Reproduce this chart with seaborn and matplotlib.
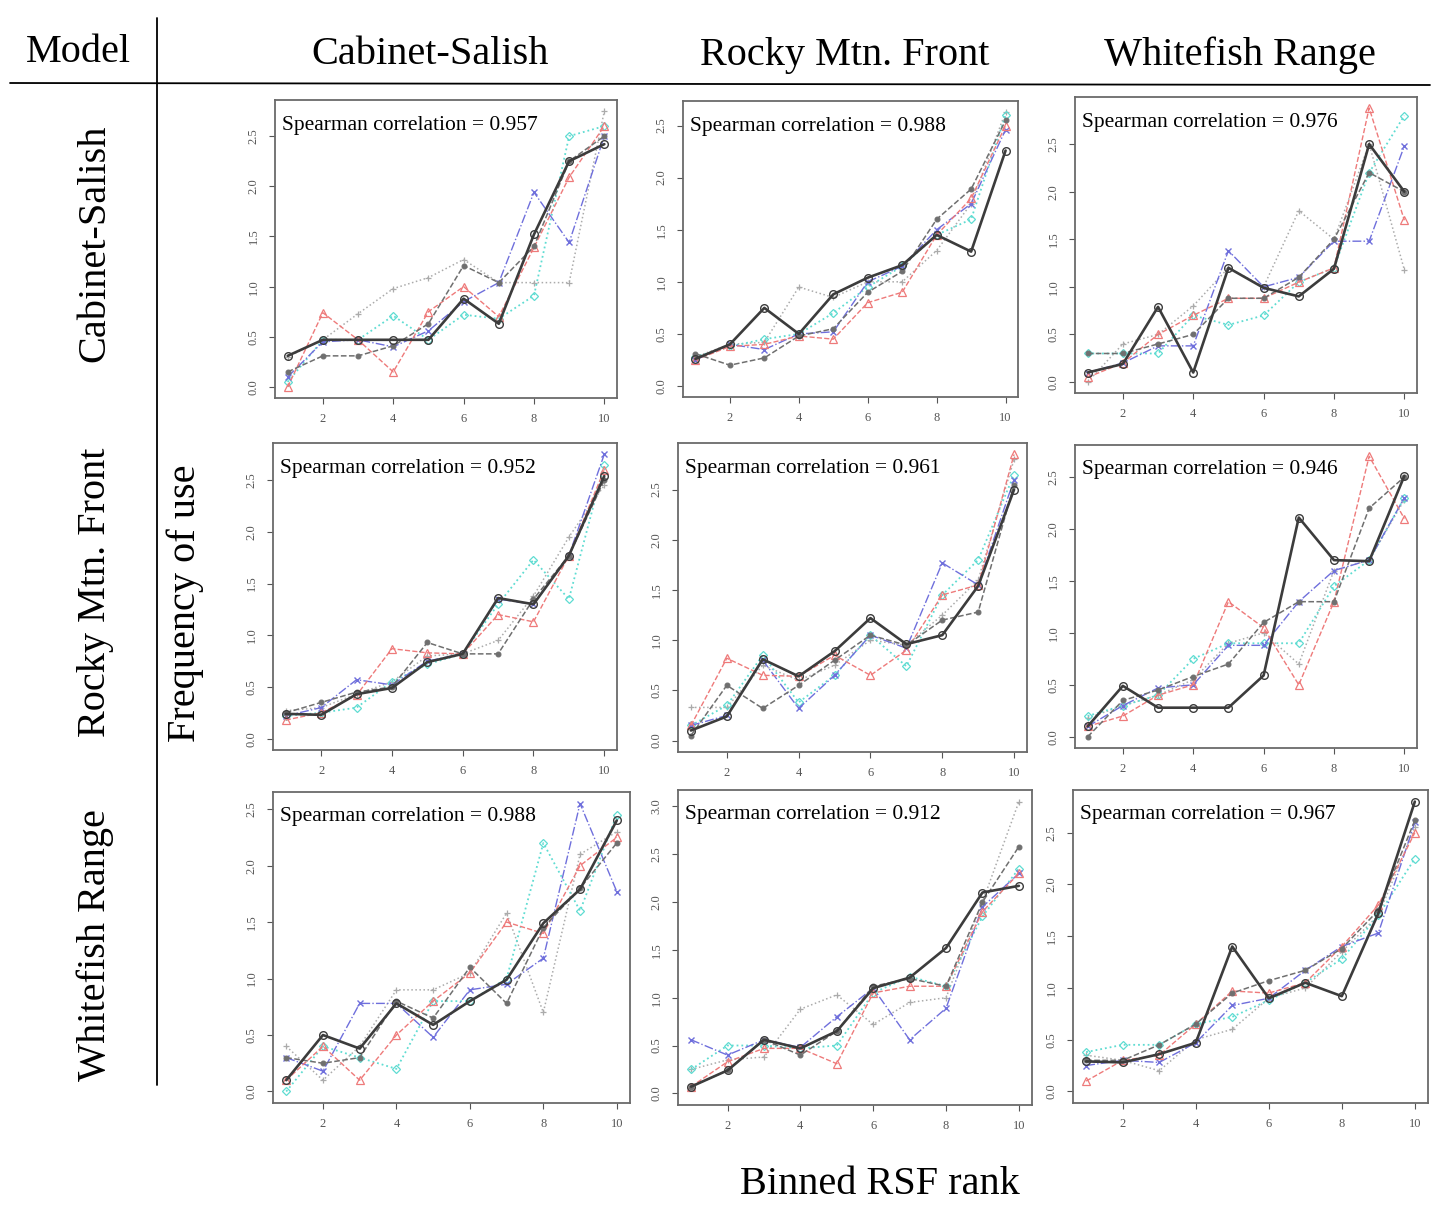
import numpy as np
import pandas as pd
import matplotlib
matplotlib.use("Agg")
import matplotlib.pyplot as plt
from matplotlib.lines import Line2D
from matplotlib.ticker import MultipleLocator, FormatStrFormatter
import matplotlib.transforms as mtransforms
import seaborn as sns

# ---------------- data ----------------
ranks = [1, 2, 3, 4, 5, 6, 7, 8, 9, 10]
areas = ["Cabinet-Salish", "Rocky Mtn. Front", "Whitefish Range"]
models = ["Cabinet-Salish", "Rocky Mtn. Front", "Whitefish Range"]
series_names = ["s1", "s2", "s3", "s4", "s5", "s6"]
correlations = ["0.957", "0.988", "0.976",
                "0.952", "0.961", "0.946",
                "0.988", "0.912", "0.967"]

# each panel: [s1 (black solid), s2 (gray dashed), s3 (red), s4 (blue), s5 (cyan), s6 (light gray)]
p11 = [[0.31, 0.47, 0.47, 0.47, 0.47, 0.88, 0.63, 1.52, 2.25, 2.42],
       [0.15, 0.31, 0.31, 0.41, 0.63, 1.21, 1.04, 1.40, 2.25, 2.50],
       [0.00, 0.74, 0.47, 0.15, 0.75, 1.00, 0.70, 1.39, 2.09, 2.60],
       [0.10, 0.45, 0.47, 0.40, 0.56, 0.85, 1.04, 1.94, 1.44, 2.50],
       [0.05, 0.47, 0.47, 0.71, 0.47, 0.72, 0.68, 0.91, 2.50, 2.60],
       [0.30, 0.47, 0.73, 0.98, 1.09, 1.27, 1.04, 1.04, 1.04, 2.75]]
p12 = [[0.26, 0.40, 0.75, 0.50, 0.88, 1.04, 1.16, 1.45, 1.29, 2.26],
       [0.31, 0.20, 0.27, 0.48, 0.55, 0.90, 1.10, 1.60, 1.89, 2.55],
       [0.25, 0.38, 0.40, 0.48, 0.45, 0.80, 0.90, 1.45, 1.80, 2.50],
       [0.25, 0.40, 0.35, 0.50, 0.52, 1.00, 1.15, 1.50, 1.75, 2.46],
       [0.28, 0.38, 0.45, 0.50, 0.70, 0.95, 1.15, 1.45, 1.60, 2.60],
       [0.28, 0.40, 0.42, 0.95, 0.85, 1.00, 1.00, 1.30, 1.75, 2.63]]
p13 = [[0.10, 0.19, 0.79, 0.10, 1.20, 0.99, 0.90, 1.19, 2.50, 2.00],
       [0.30, 0.30, 0.40, 0.50, 0.88, 0.88, 1.10, 1.50, 2.20, 2.00],
       [0.05, 0.20, 0.50, 0.70, 0.88, 0.88, 1.05, 1.20, 2.88, 1.70],
       [0.10, 0.20, 0.38, 0.38, 1.38, 1.00, 1.10, 1.48, 1.48, 2.48],
       [0.30, 0.30, 0.30, 0.70, 0.60, 0.70, 1.05, 1.20, 2.20, 2.80],
       [0.00, 0.40, 0.50, 0.80, 1.20, 1.00, 1.80, 1.50, 2.50, 1.18]]
p21 = [[0.24, 0.23, 0.43, 0.49, 0.74, 0.82, 1.36, 1.30, 1.77, 2.54],
       [0.25, 0.35, 0.45, 0.50, 0.93, 0.82, 0.82, 1.35, 1.77, 2.50],
       [0.18, 0.25, 0.42, 0.87, 0.83, 0.82, 1.20, 1.13, 1.77, 2.60],
       [0.22, 0.30, 0.57, 0.52, 0.75, 0.82, 1.35, 1.30, 1.77, 2.75],
       [0.22, 0.25, 0.30, 0.55, 0.72, 0.82, 1.30, 1.73, 1.35, 2.65],
       [0.27, 0.30, 0.43, 0.55, 0.80, 0.82, 0.95, 1.38, 1.95, 2.45]]
p22 = [[0.10, 0.24, 0.81, 0.64, 0.89, 1.22, 0.96, 1.05, 1.54, 2.50],
       [0.05, 0.55, 0.32, 0.55, 0.80, 1.05, 0.95, 1.20, 1.28, 2.55],
       [0.15, 0.82, 0.65, 0.64, 0.85, 0.65, 0.90, 1.45, 1.55, 2.85],
       [0.15, 0.25, 0.80, 0.32, 0.65, 1.05, 0.92, 1.77, 1.55, 2.60],
       [0.15, 0.35, 0.85, 0.38, 0.65, 1.05, 0.74, 1.45, 1.80, 2.65],
       [0.33, 0.33, 0.75, 0.60, 0.75, 1.00, 0.95, 1.25, 1.60, 2.80]]
p23 = [[0.10, 0.49, 0.28, 0.28, 0.28, 0.59, 2.11, 1.70, 1.69, 2.51],
       [0.00, 0.35, 0.45, 0.58, 0.70, 1.10, 1.30, 1.30, 2.20, 2.50],
       [0.10, 0.20, 0.40, 0.50, 1.30, 1.05, 0.50, 1.30, 2.70, 2.10],
       [0.10, 0.30, 0.47, 0.50, 0.88, 0.88, 1.30, 1.60, 1.70, 2.30],
       [0.20, 0.30, 0.40, 0.75, 0.90, 0.90, 0.90, 1.45, 1.70, 2.30],
       [0.18, 0.30, 0.40, 0.55, 0.90, 1.00, 0.70, 1.60, 1.70, 2.28]]
p31 = [[0.10, 0.50, 0.38, 0.78, 0.59, 0.80, 0.99, 1.49, 1.79, 2.40],
       [0.30, 0.25, 0.30, 0.80, 0.65, 1.10, 0.78, 1.45, 1.80, 2.20],
       [0.10, 0.40, 0.10, 0.50, 0.80, 1.05, 1.50, 1.40, 2.00, 2.25],
       [0.30, 0.18, 0.78, 0.78, 0.48, 0.90, 0.95, 1.18, 2.55, 1.77],
       [0.00, 0.40, 0.30, 0.20, 0.80, 0.80, 1.00, 2.20, 1.60, 2.45],
       [0.40, 0.10, 0.40, 0.90, 0.90, 1.05, 1.58, 0.70, 2.10, 2.30]]
p32 = [[0.07, 0.24, 0.56, 0.47, 0.65, 1.10, 1.21, 1.52, 2.10, 2.17],
       [0.07, 0.24, 0.56, 0.40, 0.65, 1.12, 1.20, 1.12, 2.00, 2.58],
       [0.07, 0.33, 0.47, 0.47, 0.31, 1.05, 1.12, 1.12, 1.90, 2.30],
       [0.56, 0.40, 0.56, 0.48, 0.80, 1.10, 0.56, 0.89, 1.95, 2.30],
       [0.25, 0.50, 0.50, 0.47, 0.50, 1.05, 1.22, 1.12, 1.85, 2.35],
       [0.25, 0.35, 0.38, 0.88, 1.03, 0.72, 0.95, 1.00, 2.00, 3.05]]
p33 = [[0.29, 0.28, 0.36, 0.47, 1.40, 0.90, 1.05, 0.92, 1.72, 2.80],
       [0.30, 0.30, 0.45, 0.65, 0.95, 1.07, 1.17, 1.38, 1.75, 2.62],
       [0.10, 0.30, 0.35, 0.65, 0.97, 0.95, 1.05, 1.40, 1.80, 2.50],
       [0.25, 0.30, 0.28, 0.47, 0.83, 0.90, 1.17, 1.40, 1.53, 2.60],
       [0.38, 0.45, 0.45, 0.65, 0.72, 0.88, 1.05, 1.28, 1.70, 2.25],
       [0.35, 0.30, 0.20, 0.50, 0.60, 0.90, 1.00, 1.35, 1.70, 2.55]]
panels = [[p11, p12, p13], [p21, p22, p23], [p31, p32, p33]]
x_ticks = [2, 4, 6, 8, 10]

# ---------------- styles ----------------
styles = [
    dict(color="#3c3c3c", ls="-", lw=1.9, marker="o", mfc="none", ms=5.5, mew=1.0, z=6),
    dict(color="#6f6f6f", ls="--", lw=1.1, marker="o", mfc="#6f6f6f", ms=3.5, mew=0.8, z=5),
    dict(color="#ee7a7a", ls="--", lw=1.0, marker="^", mfc="none", ms=5.5, mew=0.9, z=4),
    dict(color="#6f6fdc", ls="-.", lw=1.0, marker="x", mfc="none", ms=4.5, mew=1.0, z=4),
    dict(color="#5fdcd2", ls=":", lw=1.3, marker="D", mfc="none", ms=4.0, mew=0.9, z=3),
    dict(color="#ababab", ls=":", lw=1.1, marker="+", mfc="none", ms=5.0, mew=0.9, z=3),
]

# panel boxes in pixels (left, top, right, bottom)
W, H = 1431, 1207
boxes = [[(275, 100, 617, 398), (683, 101, 1018, 397), (1075, 97, 1417, 393)],
         [(273, 443, 617, 750), (678, 443, 1027, 752), (1075, 445, 1417, 748)],
         [(273, 792, 630, 1103), (678, 790, 1032, 1105), (1073, 790, 1428, 1103)]]

sns.set_theme(style="white")
plt.rcParams["font.family"] = ["Liberation Serif", "DejaVu Serif"]
plt.rcParams["axes.edgecolor"] = "#6a6a6a"
plt.rcParams["axes.linewidth"] = 1.3
plt.rcParams["text.color"] = "black"

fig = plt.figure(figsize=(W / 100, H / 100), dpi=100)

for r in range(3):
    for c in range(3):
        l, t, rr, b = boxes[r][c]
        ax = fig.add_axes([l / W, 1 - b / H, (rr - l) / W, (b - t) / H])
        data = panels[r][c]
        rows = []
        for s, vals in zip(series_names, data):
            for x, v in zip(ranks, vals):
                rows.append((x, v, s))
        df = pd.DataFrame(rows, columns=["rank", "freq", "series"])
        for s, st in zip(reversed(series_names), reversed(styles)):
            sub = df[df["series"] == s]
            sns.lineplot(data=sub, x="rank", y="freq", ax=ax, color=st["color"],
                         linestyle=st["ls"], linewidth=st["lw"], marker=st["marker"],
                         markerfacecolor=st["mfc"], markeredgecolor=st["color"],
                         markersize=st["ms"], markeredgewidth=st["mew"],
                         zorder=st["z"], legend=False, errorbar=None)
        lo = min(0.0, df["freq"].min())
        hi = df["freq"].max()
        pad = 0.04 * (hi - lo)
        ax.set_ylim(lo - pad, hi + pad)
        ax.set_xlim(1 - 0.36, 10 + 0.36)
        ax.set_xticks(x_ticks)
        ax.set_xticklabels([str(v) for v in x_ticks])
        ax.yaxis.set_major_locator(MultipleLocator(0.5))
        ax.yaxis.set_major_formatter(FormatStrFormatter("%.1f"))
        ax.tick_params(axis="both", which="major", direction="out", length=4,
                       width=0.8, colors="#555555", labelsize=9, pad=7,
                       bottom=True, left=True)
        for lab in ax.get_yticklabels():
            lab.set_rotation(90)
            lab.set_va("center")
        ax.set_xlabel("")
        ax.set_ylabel("")
        trans = ax.transAxes + mtransforms.ScaledTranslation(7 / 100, -25 / 100, fig.dpi_scale_trans)
        ax.text(0, 1, "Spearman correlation = " + correlations[3 * r + c],
                transform=trans, ha="left", va="center", fontsize=15.5,
                color="black", zorder=10)

# ---------------- header / labels ----------------
big = 29
fig.text(78 / W, 1 - 53 / H, "Model", ha="center", va="center", fontsize=big, color="black")
for xc, name in zip([430, 845, 1240], areas):
    fig.text(xc / W, 1 - 55 / H, name, ha="center", va="center", fontsize=big, color="black")
for yc, name in zip([243, 592, 945], models):
    fig.text(95 / W, 1 - yc / H, name, ha="center", va="center", fontsize=big,
             rotation=90, color="black")
fig.text(185 / W, 1 - 603 / H, "Frequency of use", ha="center", va="center",
         fontsize=big, rotation=90, color="black")
fig.text(880 / W, 1 - 1184 / H, "Binned RSF rank", ha="center", va="center",
         fontsize=big, color="black")

fig.add_artist(Line2D([10 / W, 1430 / W], [1 - 83 / H, 1 - 85 / H], color="black", lw=1.3))
fig.add_artist(Line2D([157 / W, 157 / W], [1 - 18 / H, 1 - 1085 / H], color="black", lw=1.3))

fig.savefig("out.png", dpi=100, facecolor="white")
